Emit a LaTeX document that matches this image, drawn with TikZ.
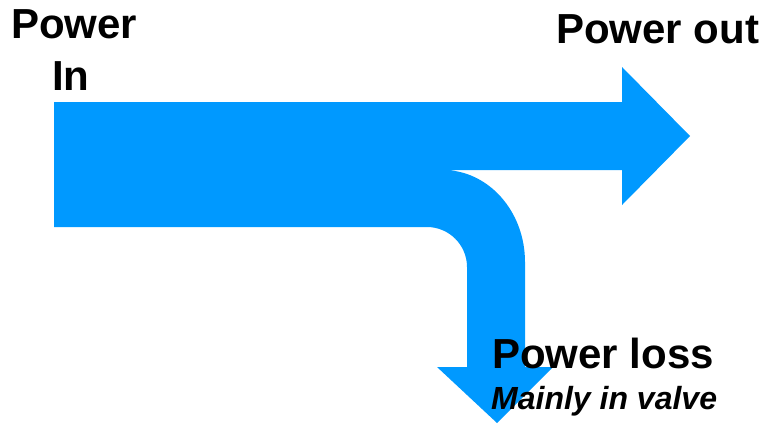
\documentclass[tikz,border=0pt]{standalone}
\usepackage{fontspec}
\setmainfont{Liberation Sans}
\definecolor{flowblue}{RGB}{0,153,255}
\tikzset{
  flow/.style={fill=flowblue, draw=none},
  bigtxt/.style={anchor=base west, inner sep=0pt, font=\fontsize{42}{42}\selectfont\bfseries},
  smalltxt/.style={anchor=base west, inner sep=0pt, font=\fontsize{32}{32}\selectfont\bfseries\itshape}
}
\begin{document}
\begin{tikzpicture}[x=1pt,y=-1pt]
\useasboundingbox (0,0) rectangle (765,423);
\fill[flowblue] (54,102) -- (622,102) -- (622,67) -- (690,136) -- (622,205) -- (622,170)
  -- (443,170) .. controls (488,170) and (525,211) .. (525,262)
  -- (525,367) -- (553,367) -- (497,423) -- (437,367) -- (467,367)
  -- (467,267) .. controls (467,245) and (449,227) .. (427,227)
  -- (54,227) -- cycle;
\node[bigtxt] (pin1) at (11,38) {Power};
\node[bigtxt] (pin2) at (52,90) {In};
\node[bigtxt] (pout) at (556,43) {Power out};
\node[bigtxt] (ploss) at (492,368) {Power loss};
\node[smalltxt] (valve) at (491,409) {Mainly in valve};
\end{tikzpicture}
\end{document}
